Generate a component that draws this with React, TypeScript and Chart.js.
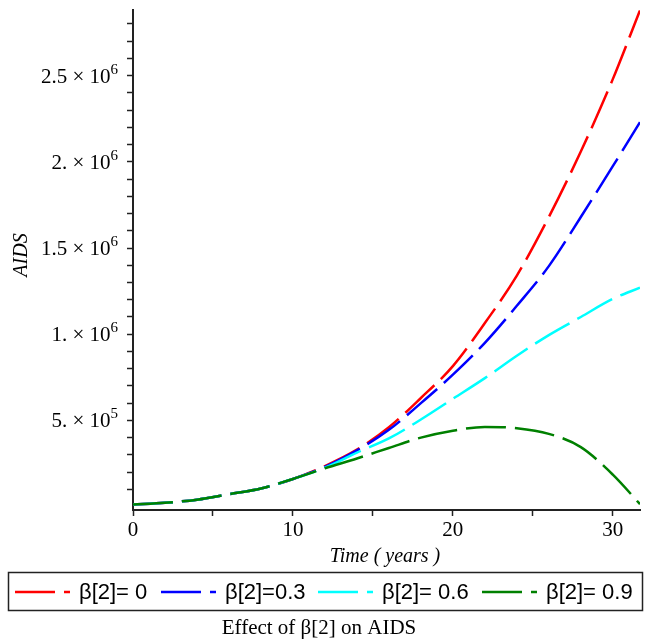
import React, { useEffect, useRef } from "react";
import { Chart, registerables } from "chart.js";

Chart.register(...registerables);

// Time (years)
const TIME = [0, 2, 4, 6, 8, 10, 12, 14, 16, 18, 20, 22, 24, 26, 28, 30, 31.7];
// AIDS for each beta[2]
const AIDS_B0 = [12000, 22000, 40000, 72000, 105000, 160000, 235000, 330000, 460000, 630000, 815000, 1065000, 1340000, 1680000, 2060000, 2480000, 2880000];
const AIDS_B03 = [12000, 22000, 40000, 72000, 105000, 160000, 230000, 326000, 445000, 600000, 765000, 950000, 1165000, 1395000, 1680000, 1975000, 2230000];
const AIDS_B06 = [12000, 22000, 40000, 72000, 105000, 160000, 225000, 313000, 395000, 505000, 625000, 745000, 875000, 995000, 1100000, 1205000, 1270000];
const AIDS_B09 = [12000, 22000, 40000, 72000, 105000, 160000, 222000, 279000, 340000, 400000, 440000, 462000, 455000, 422000, 345000, 185000, 14000];

const SERIES_LABELS = ["β[2]= 0", "β[2]=0.3", "β[2]= 0.6", "β[2]= 0.9"];
const SERIES_COLORS = ["#ff0000", "#0000ff", "#00ffff", "#008000"];
const SERIES_VALUES = [AIDS_B0, AIDS_B03, AIDS_B06, AIDS_B09];

const X_TICKS = [0, 5, 10, 15, 20, 25, 30];
const X_LABELED = [0, 10, 20, 30];
const Y_MINOR_STEP = 100000;
const Y_TICK_MAX = 2800000;
const Y_LABELS = [
  { value: 500000, mant: "5.", exp: "5" },
  { value: 1000000, mant: "1.", exp: "6" },
  { value: 1500000, mant: "1.5", exp: "6" },
  { value: 2000000, mant: "2.", exp: "6" },
  { value: 2500000, mant: "2.5", exp: "6" },
];
const X_TITLE = "Time ( years )";
const Y_TITLE = "AIDS";
const CAPTION = "Effect of β[2] on AIDS";

const SERIF = "'Liberation Serif', 'Times New Roman', serif";
const SANS = "'Liberation Sans', Arial, sans-serif";

const decorPlugin = {
  id: "decor",
  afterDraw(chart: any) {
    const ctx = chart.ctx as CanvasRenderingContext2D;
    const ys = chart.scales.y;
    ctx.save();
    ctx.fillStyle = "#000";
    // y tick labels with superscripts
    const right = 118;
    for (const lab of Y_LABELS) {
      const py = ys.getPixelForValue(lab.value);
      ctx.font = `15px ${SERIF}`;
      const ew = ctx.measureText(lab.exp).width;
      ctx.textAlign = "left";
      ctx.textBaseline = "alphabetic";
      ctx.fillText(lab.exp, right - ew, py - 2);
      ctx.font = `21px ${SERIF}`;
      ctx.textAlign = "right";
      ctx.fillText(`${lab.mant} \u00d7 10`, right - ew, py + 7);
    }
    // axis titles
    ctx.font = `italic 20px ${SERIF}`;
    ctx.textAlign = "center";
    ctx.textBaseline = "middle";
    ctx.fillText(X_TITLE, 385, 557);
    ctx.save();
    ctx.translate(22, 255);
    ctx.rotate(-Math.PI / 2);
    ctx.fillText(Y_TITLE, 0, 0);
    ctx.restore();
    // legend box
    ctx.strokeStyle = "#222";
    ctx.lineWidth = 1.5;
    ctx.strokeRect(8.5, 572.5, 634, 38);
    const itemX = [15, 161, 318, 482];
    const ly = 592;
    ctx.font = `22px ${SANS}`;
    ctx.textAlign = "left";
    ctx.textBaseline = "middle";
    for (let i = 0; i < SERIES_LABELS.length; i++) {
      const x0 = itemX[i];
      ctx.strokeStyle = SERIES_COLORS[i];
      ctx.lineWidth = 2.5;
      ctx.beginPath();
      ctx.moveTo(x0, ly);
      ctx.lineTo(x0 + 40, ly);
      ctx.moveTo(x0 + 49, ly);
      ctx.lineTo(x0 + 55, ly);
      ctx.stroke();
      ctx.fillStyle = "#000";
      ctx.fillText(SERIES_LABELS[i], x0 + 64, ly + 1);
    }
    // caption
    ctx.font = `21px ${SERIF}`;
    ctx.textAlign = "center";
    ctx.fillText(CAPTION, 319, 628);
    ctx.restore();
  },
};

export default function App() {
  const ref = useRef<HTMLCanvasElement | null>(null);
  useEffect(() => {
    if (!ref.current) return;
    const datasets = SERIES_VALUES.map((vals, i) => ({
      label: SERIES_LABELS[i],
      data: TIME.map((t, k) => ({ x: t, y: vals[k] })),
      borderColor: SERIES_COLORS[i],
      backgroundColor: SERIES_COLORS[i],
      borderWidth: 2.5,
      borderDash: [40, 9],
      pointRadius: 0,
      cubicInterpolationMode: "monotone" as const,
      fill: false,
      order: 4 - i,
    }));
    const chart = new Chart(ref.current, {
      type: "line",
      data: { datasets },
      plugins: [decorPlugin],
      options: {
        animation: false,
        responsive: false,
        layout: { padding: { top: 6, right: 10, left: 0, bottom: 0 } },
        plugins: { legend: { display: false }, tooltip: { enabled: false } },
        scales: {
          x: {
            type: "linear",
            min: 0,
            max: 31.7,
            afterBuildTicks: (s: any) => {
              s.ticks = X_TICKS.map((v) => ({ value: v }));
            },
            afterFit: (s: any) => {
              s.height = 132;
            },
            border: { display: true, color: "#222", width: 2 },
            grid: {
              display: true,
              drawOnChartArea: false,
              drawTicks: true,
              tickLength: 6,
              tickColor: "#222",
              tickWidth: 1.5,
            },
            ticks: {
              autoSkip: false,
              maxRotation: 0,
              padding: 2,
              color: "#000",
              font: { family: SERIF, size: 21 },
              callback: (v: any) => (X_LABELED.includes(Number(v)) ? String(v) : ""),
            },
          },
          y: {
            type: "linear",
            min: -20000,
            max: 2880000,
            afterBuildTicks: (s: any) => {
              const t: any[] = [];
              for (let v = Y_MINOR_STEP; v <= Y_TICK_MAX; v += Y_MINOR_STEP) t.push({ value: v });
              s.ticks = t;
            },
            afterFit: (s: any) => {
              s.width = 133;
            },
            border: { display: true, color: "#222", width: 2 },
            grid: {
              display: true,
              drawOnChartArea: false,
              drawTicks: true,
              tickLength: 6,
              tickColor: "#222",
              tickWidth: 1.5,
            },
            ticks: {
              autoSkip: false,
              callback: () => "",
            },
          },
        },
      },
    });
    return () => chart.destroy();
  }, []);
  return (
    <div style={{ position: "absolute", left: 0, top: 0, width: 650, height: 642, background: "#fff" }}>
      <canvas ref={ref} width={650} height={642} />
    </div>
  );
}
